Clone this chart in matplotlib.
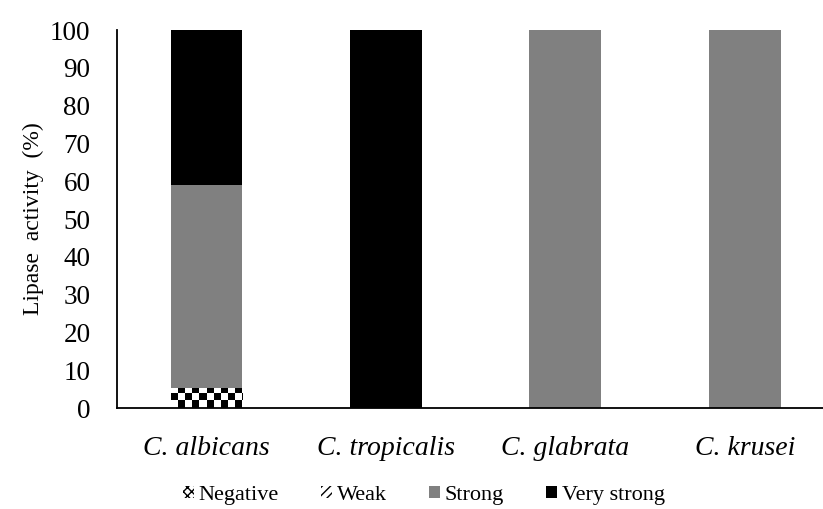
import numpy as np
import matplotlib
matplotlib.use('Agg')
from matplotlib import pyplot as plt
from matplotlib.patches import Patch

species = ['C. albicans', 'C. tropicalis', 'C. glabrata', 'C. krusei']
negative = [5.3, 0, 0, 0]
weak = [0, 0, 0, 0]
strong = [53.7, 0, 100, 100]
very_strong = [41.0, 100, 0, 0]
yticks = list(range(0, 101, 10))

plt.rcParams['font.family'] = ['Liberation Serif', 'DejaVu Serif']

fig = plt.figure(figsize=(8.23, 5.09), dpi=100)
ax = fig.add_axes([0.142, 0.1984, 0.858, 0.7426])

x = np.arange(len(species))
w = 0.4
neg = np.array(negative)
wk = np.array(weak)
st = np.array(strong)
vs = np.array(very_strong)

# checkerboard fill for the negative segment, clipped to each bar
neg_bars = ax.bar(x, neg, w, color='none', edgecolor='none')
checker = (np.indices((60, 200)).sum(axis=0) % 2).astype(float)
for b in neg_bars:
    if b.get_height() <= 0:
        continue
    x0, y0 = b.get_x(), b.get_y()
    im = ax.imshow(checker, cmap='gray_r', interpolation='nearest', aspect='auto',
                   extent=[x0, x0 + 200 * 0.0395, y0, y0 + 60 * 1.95],
                   origin='lower', zorder=2)
    im.set_clip_path(b)

ax.bar(x, wk, w, bottom=neg, color='white', edgecolor='black', hatch='////', linewidth=0)
ax.bar(x, st, w, bottom=neg + wk, color='#808080', zorder=2)
ax.bar(x, vs, w, bottom=neg + wk + st, color='black', zorder=2)

ax.set_xlim(-0.5, 3.436)
ax.set_ylim(0, 100)
ax.set_yticks(yticks)
ax.set_xticks(x)
ax.set_xticklabels(species, fontstyle='italic', fontsize=20)
ax.tick_params(axis='y', labelsize=19.5, length=0, pad=19)
ax.tick_params(axis='x', length=0, pad=20)
ax.set_ylabel('Lipase  activity  (%)', fontsize=17, labelpad=4)
for s in ['top', 'right']:
    ax.spines[s].set_visible(False)
ax.spines['left'].set_linewidth(1.3)
ax.spines['bottom'].set_linewidth(1.3)

handles = [
    Patch(facecolor='white', edgecolor='black', hatch='xxxx', linewidth=0),
    Patch(facecolor='white', edgecolor='black', hatch='////', linewidth=0),
    Patch(facecolor='#808080'),
    Patch(facecolor='black'),
]
fig.legend(handles, ['Negative', 'Weak', 'Strong', 'Very strong'], loc='center',
           bbox_to_anchor=(0.515, 0.027), ncol=4, frameon=False, fontsize=16,
           handlelength=0.5, handleheight=0.5, handletextpad=0.2, columnspacing=1.9)

fig.savefig('out.png', dpi=100)
